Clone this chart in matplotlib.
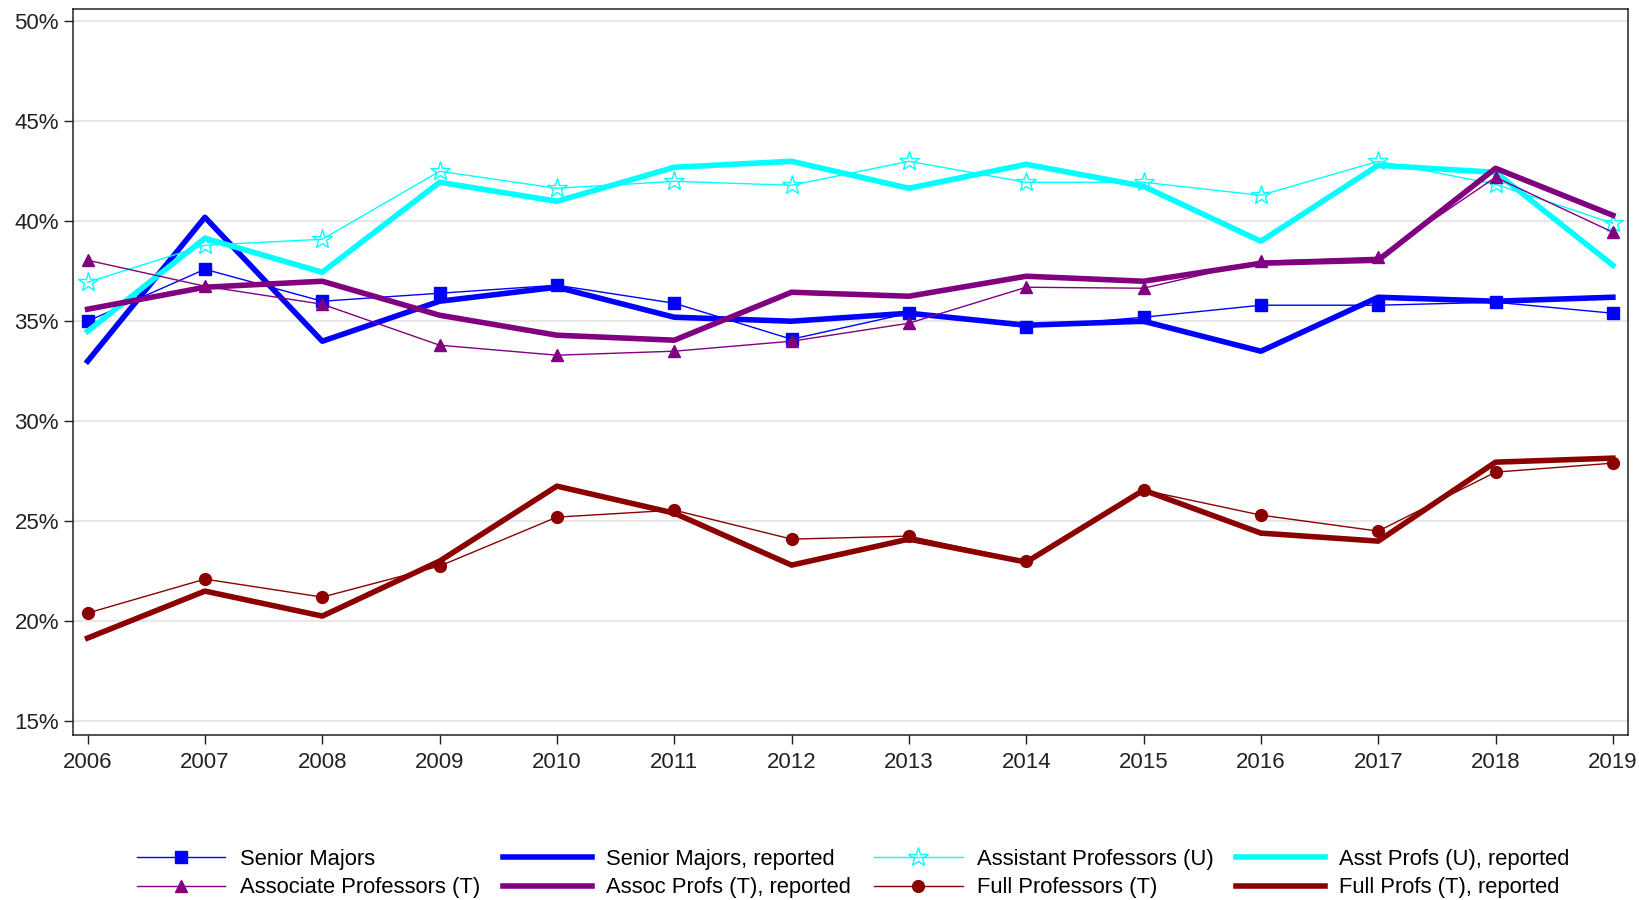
import numpy as np
import matplotlib
matplotlib.use("Agg")
import matplotlib.pyplot as plt
from matplotlib.ticker import FuncFormatter

plt.rcParams['font.family'] = ['Liberation Sans', 'DejaVu Sans']

years = list(range(2006, 2020))

# shares by rank, percent
senior_majors = [35.0, 37.6, 36.0, 36.4, 36.8, 35.9, 34.1, 35.4, 34.7, 35.2, 35.8, 35.8, 35.95, 35.4]
senior_majors_rep = [33.0, 40.2, 34.0, 36.0, 36.7, 35.2, 35.0, 35.4, 34.8, 35.0, 33.5, 36.2, 36.0, 36.2]
asst_profs = [36.95, 38.8, 39.1, 42.5, 41.65, 42.0, 41.8, 43.0, 41.95, 41.95, 41.3, 43.0, 41.85, 39.9]
asst_profs_rep = [34.5, 39.15, 37.45, 41.95, 41.0, 42.7, 43.0, 41.65, 42.85, 41.75, 39.0, 42.8, 42.45, 37.8]
assoc_profs = [38.05, 36.75, 35.85, 33.8, 33.3, 33.5, 34.0, 34.9, 36.7, 36.65, 38.0, 38.2, 42.2, 39.45]
assoc_profs_rep = [35.6, 36.7, 37.0, 35.3, 34.3, 34.05, 36.45, 36.25, 37.25, 37.0, 37.9, 38.05, 42.65, 40.3]
full_profs = [20.4, 22.1, 21.2, 22.75, 25.2, 25.55, 24.1, 24.25, 23.0, 26.55, 25.3, 24.5, 27.45, 27.9]
full_profs_rep = [19.15, 21.5, 20.25, 23.0, 26.75, 25.4, 22.8, 24.1, 22.95, 26.55, 24.4, 24.0, 27.95, 28.15]

BLUE = '#0000ff'
CYAN = '#00ffff'
PURPLE = '#800080'
MAROON = '#8b0000'

fig = plt.figure(figsize=(16.39, 9.0), dpi=100)
ax = fig.add_axes([0.0445, 0.1833, 0.9485, 0.8063])

thin = 1.0
thick = 4.0

h_sm, = ax.plot(years, senior_majors, color=BLUE, lw=thin, marker='s', ms=8.5,
                label='Senior Majors')
h_smr, = ax.plot(years, senior_majors_rep, color=BLUE, lw=thick,
                 label='Senior Majors, reported')
h_as, = ax.plot(years, asst_profs, color=CYAN, lw=thin, marker='*', ms=15,
                mfc='none', mew=1.0, label='Assistant Professors (U)')
h_asr, = ax.plot(years, asst_profs_rep, color=CYAN, lw=thick,
                 label='Asst Profs (U), reported')
h_ao, = ax.plot(years, assoc_profs, color=PURPLE, lw=thin, marker='^', ms=9,
                label='Associate Professors (T)')
h_aor, = ax.plot(years, assoc_profs_rep, color=PURPLE, lw=thick,
                 label='Assoc Profs (T), reported')
h_fp, = ax.plot(years, full_profs, color=MAROON, lw=thin, marker='o', ms=8.5,
                label='Full Professors (T)')
h_fpr, = ax.plot(years, full_profs_rep, color=MAROON, lw=thick,
                 label='Full Profs (T), reported')

ax.set_xlim(2005.875, 2019.125)
ax.set_ylim(14.3, 50.6)
ax.set_xticks(years)
ax.set_yticks(np.arange(15, 51, 5))
ax.yaxis.set_major_formatter(FuncFormatter(lambda v, p: f"{v:.0f}%"))
ax.tick_params(axis='both', labelsize=16, colors='#222222', length=6.5, width=1)
ax.tick_params(axis='x', pad=6)
ax.grid(axis='y', color='#e8e8e8', lw=1.5)
ax.set_axisbelow(True)
for s in ax.spines.values():
    s.set_color('#222222')
    s.set_linewidth(1.1)

# legend fills column-wise, so interleave to get the row order
handles = [h_sm, h_ao, h_smr, h_aor, h_as, h_fp, h_asr, h_fpr]
fig.legend(handles=handles, labels=[h.get_label() for h in handles],
           loc='lower left', bbox_to_anchor=(0.078, -0.008), ncol=4, frameon=False,
           fontsize=15.8, handlelength=4.05, handletextpad=0.64,
           columnspacing=1.05, labelspacing=0.35, borderaxespad=0.0)

fig.savefig('out.png', dpi=100)
